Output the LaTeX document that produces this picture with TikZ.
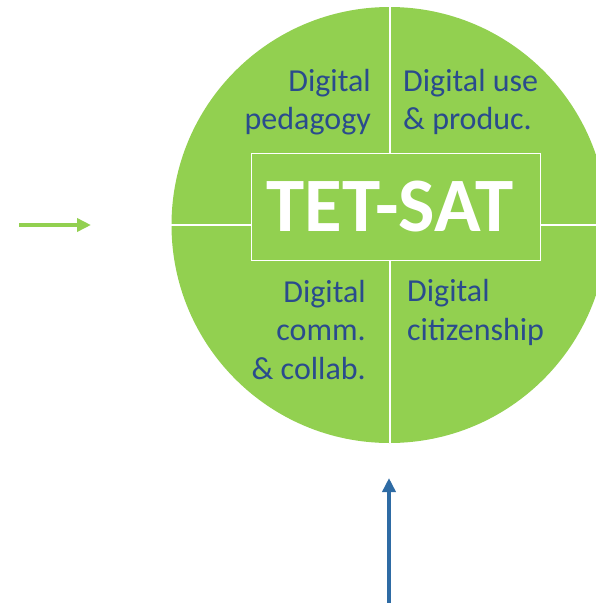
\documentclass[tikz,border=0pt]{standalone}
\usepackage{fontspec}
\setmainfont{Carlito}
\usetikzlibrary{positioning}
\usetikzlibrary{arrows.meta}
\definecolor{leaf}{HTML}{92D050}
\definecolor{ink}{HTML}{2A4B8D}
\definecolor{steel}{HTML}{2E6BA4}
\tikzset{
  area/.style={text=ink, font=\fontsize{32}{38.5}\selectfont, inner sep=0pt},
  divider/.style={draw=white, line width=2pt},
  flow/.style={line width=4pt, -{Triangle[length=14pt,width=13pt]}},
}

\begin{document}
\begin{tikzpicture}[x=1pt, y=-1pt]
      \useasboundingbox (0,0) rectangle (596,603);
      \clip (0,0) rectangle (596,603);
      \node(c) [circle, fill=leaf, minimum size=436pt, inner sep=0pt] at (389.5,225) {};
      % the title sits a little left of the box centre
      \node(tet) [fill=leaf, draw=white, line width=1.5pt, minimum width=289pt, minimum height=107pt,
                  text=white, font=\fontsize{77}{80}\selectfont\bfseries] at (396,207) {TET-SAT\hspace*{12pt}};
      % base anchor sits on the last line
      \node(ped) [area, anchor=base east, align=right] at (371,129.5) {Digital\\pedagogy};
      \node(use) [area, anchor=base west, align=left] at (403,129.5) {Digital use\\\& produc.};
      \node(com) [area, anchor=base east, align=right] at (366,379) {Digital\\comm.\\\& collab.};
      \node(cit) [area, anchor=base west, align=left] at (407,340) {Digital\\citizenship};
      \coordinate(src) at (19,225);
      \coordinate(dst) at (91,225);
      \coordinate(foot) at (389,603);
      \coordinate(tip) at (389,478);

      \draw[divider](c.north) -- (c.north |- tet.north);
      \draw[divider](c.south |- tet.south) -- (c.south);
      \draw[divider](c.west) -- (c.west -| tet.west);
      \draw[divider](tet.east |- c.east) -- (c.east);
      \draw[flow, leaf](src) -- (dst);
      \draw[flow, steel](foot) -- (tip);
    \end{tikzpicture}
\end{document}
